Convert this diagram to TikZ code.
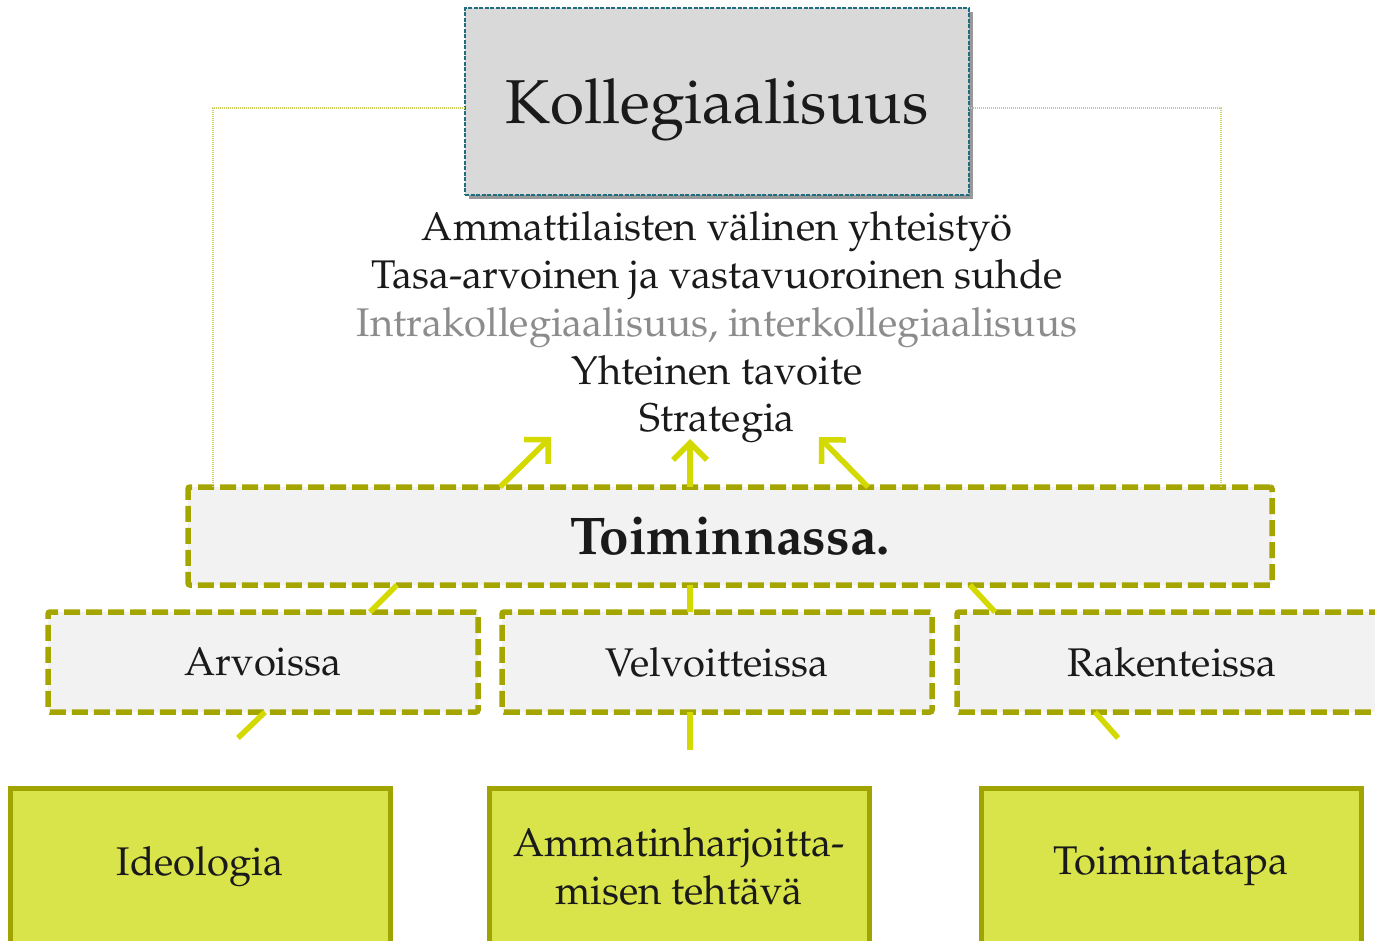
\documentclass[tikz,border=0pt]{standalone}
\usepackage[T1]{fontenc}
\renewcommand{\rmdefault}{ppl}
\usetikzlibrary{arrows.meta,shadows,calc}
\definecolor{kollfill}{HTML}{D9D9D9}
\definecolor{kollline}{HTML}{1E6E7E}
\definecolor{lightfill}{HTML}{F2F2F2}
\definecolor{olivedash}{HTML}{A5A500}
\definecolor{conncol}{HTML}{D4D900}
\definecolor{basefill}{HTML}{D9E34A}
\definecolor{baseedge}{HTML}{A0A400}
\definecolor{dotcol}{HTML}{CDD165}
\definecolor{graytxt}{HTML}{8C8C8C}
\definecolor{txt}{HTML}{1A1A1A}
\tikzset{
  kollbox/.style={draw=kollline, fill=kollfill, line width=1.6pt, dash pattern=on 4pt off 1.5pt,
    minimum width=504pt, minimum height=187pt, inner sep=0pt, outer sep=0pt, text depth=0pt,
    drop shadow={shadow xshift=4pt, shadow yshift=-4pt, fill=black, opacity=0.4},
    font=\fontsize{62}{68}\selectfont, text=txt},
  mainbox/.style={draw=olivedash, fill=lightfill, line width=5.5pt, dash pattern=on 16pt off 6pt,
    rounded corners=2pt, inner sep=0pt, outer sep=0pt, text=txt},
  midbox/.style={mainbox, minimum width=430pt, minimum height=100pt, font=\fontsize{40}{44}\selectfont},
  basebox/.style={draw=baseedge, fill=basefill, line width=5pt, minimum width=380pt, minimum height=157pt,
    inner sep=0pt, outer sep=0pt, align=center, text=txt, font=\fontsize{40}{48}\selectfont},
  conn/.style={draw=conncol, line width=5.5pt},
  arr/.style={conn, -{Straight Barb[length=17pt,width=34pt]}},
  guide/.style={draw=dotcol, line width=1.2pt, dash pattern=on 1.2pt off 0.8pt},
  info/.style={font=\fontsize{40}{48}\selectfont, text=txt, anchor=base, inner sep=0pt},
}
\begin{document}
\begin{tikzpicture}[x=1pt,y=-1pt]
\fill[white] (0,0) rectangle (1375,940);
\useasboundingbox (0,0) rectangle (1375,940);

% nodes
\node[kollbox] (koll) at (717,101.5) {Kollegiaalisuus};
\node[info] (l1) at (717,240) {Ammattilaisten v\"alinen yhteisty\"o};
\node[info] (l2) at (717,288) {Tasa-arvoinen ja vastavuoroinen suhde};
\node[info, text=graytxt] (l3) at (717,336) {Intrakollegiaalisuus, interkollegiaalisuus};
\node[info] (l4) at (717,384) {Yhteinen tavoite};
\node[info] (l5) at (717,431) {Strategia};

\node[mainbox, minimum width=1084pt, minimum height=98pt, font=\bfseries\fontsize{53}{57}\selectfont] (toim) at (730,536) {Toiminnassa.};

\node[midbox] (arv) at (263,662) {Arvoissa};
\node[midbox] (vel) at (717,662) {Velvoitteissa};
\node[midbox] (rak) at (1172,662) {Rakenteissa};

\node[basebox] (ideo) at (200,866.5) {Ideologia};
\node[basebox] (amm) at (679,866.5) {Ammatinharjoitta-\\misen teht\"av\"a};
\node[basebox] (tt) at (1171,866.5) {Toimintatapa};

% guide lines
\coordinate (dl) at (213,0);
\coordinate (dr) at (1221,0);
\draw[guide] ([yshift=-6.5pt]koll.west) -| (toim.north -| dl);
\draw[guide] ([yshift=-6.5pt]koll.east) -| (toim.north -| dr);

% arrows to the list
\coordinate (t1) at (551,437);
\coordinate (t2) at (690,439);
\coordinate (t3) at (819,437);
\draw[arr] ([xshift=312pt]toim.north west) -- (t1);
\draw[arr] (toim.north -| t2) -- (t2);
\draw[arr] ([xshift=680pt]toim.north west) -- (t3);

% connectors toim - middle boxes
\draw[conn] ([xshift=209pt]toim.south west) -- ([xshift=322pt]arv.north west);
\draw[conn] (toim.south -| t2) -- (vel.north -| t2);
\draw[conn] ([xshift=782pt]toim.south west) -- ([xshift=38pt]rak.north west);

% connectors below middle boxes
\coordinate (b1) at (238,738);
\coordinate (b2) at (690,750);
\coordinate (b3) at (1118,738);
\draw[conn] (b1) -- ([xshift=2pt]arv.south);
\draw[conn] (b2) -- (vel.south -| b2);
\draw[conn] (b3) -- ([xshift=-77pt]rak.south);
\end{tikzpicture}
\end{document}
